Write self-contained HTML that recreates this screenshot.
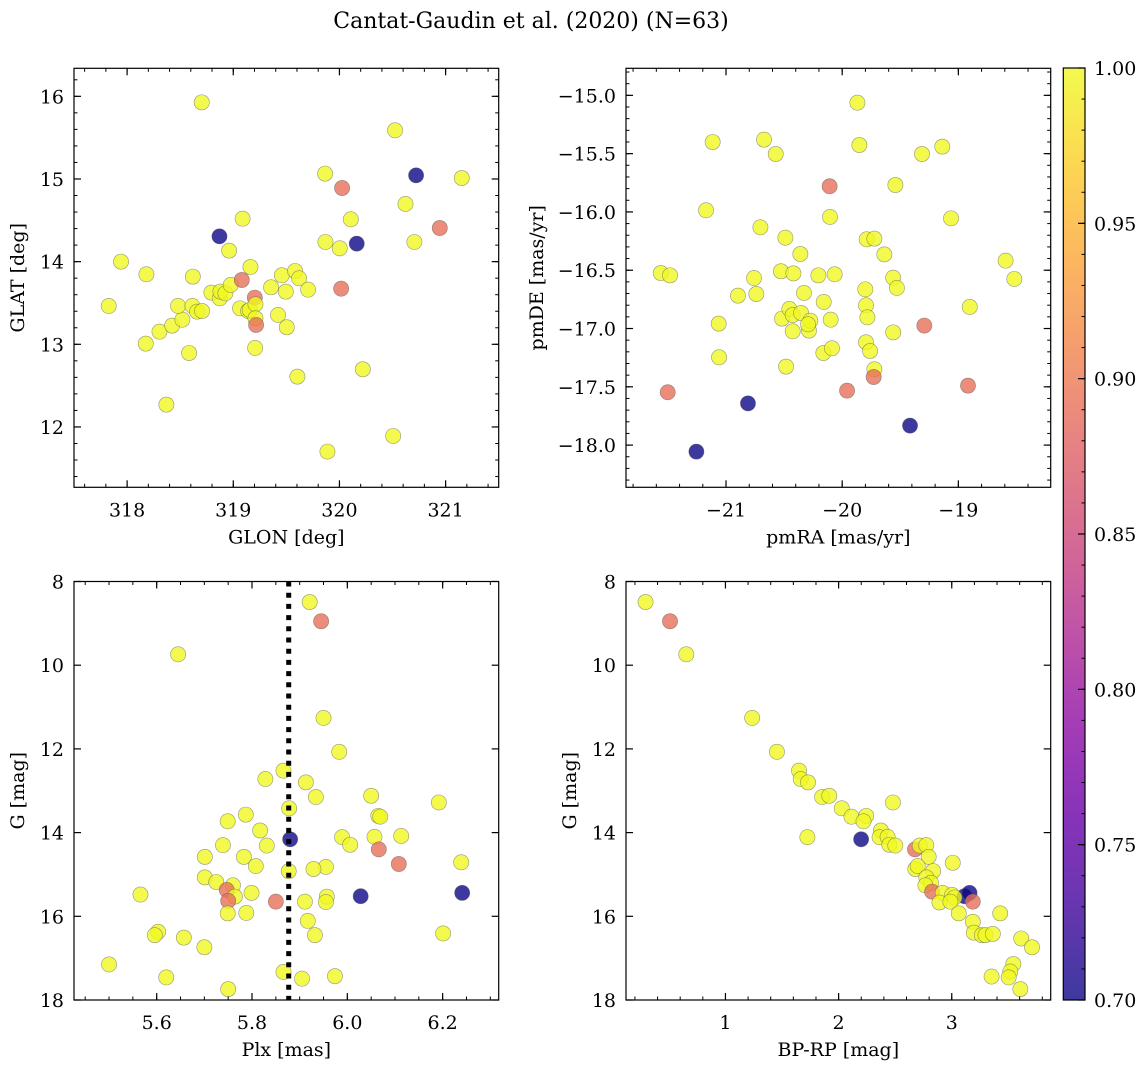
<!DOCTYPE html>
<html><head><meta charset="utf-8">
<style>
html,body{margin:0;padding:0;background:#fff;}
svg{display:block;font-family:"DejaVu Serif","Liberation Serif",serif;}
</style></head>
<body>
<svg id="fig" width="1148" height="1067" viewBox="0 0 1148 1067" xmlns="http://www.w3.org/2000/svg">
<text x="531" y="28" font-size="22" text-anchor="middle">Cantat-Gaudin et al. (2020) (N=63)</text>
</svg>
<script>
// ---- Panel 1: GLON / GLAT ----
const glonVals=[317.827,317.943,318.182,318.176,318.305,318.424,318.521,318.480,318.584,318.619,318.615,318.659,318.706,318.703,318.370,318.794,318.873,318.879,318.926,318.976,318.961,318.870,319.088,319.080,319.162,319.064,319.140,319.155,319.203,319.209,319.209,319.215,319.206,319.356,319.422,319.457,319.495,319.504,319.582,319.620,319.705,319.604,319.865,319.868,319.887,320.003,320.025,320.016,320.107,320.163,320.220,320.506,320.524,320.622,320.706,320.722,320.945,321.152];
const glatVals=[13.464,14.000,13.847,13.008,13.153,13.226,13.298,13.464,12.895,13.819,13.464,13.395,13.403,15.927,12.270,13.625,13.556,13.637,13.617,13.718,14.133,14.306,14.520,13.778,13.935,13.435,13.403,13.415,13.565,13.484,13.315,13.234,12.956,13.690,13.355,13.835,13.637,13.206,13.887,13.798,13.661,12.609,15.065,14.238,11.702,14.161,14.891,13.673,14.512,14.218,12.698,11.891,15.589,14.698,14.238,15.044,14.407,15.012];
const probPos=[1,1,1,1,1,1,1,1,1,1,1,1,1,1,1,1,1,1,1,1,1,0.70,1,0.89,1,1,1,1,0.89,1,1,0.89,1,1,1,1,1,1,1,1,1,1,1,1,1,1,0.89,0.89,1,0.70,1,1,1,1,1,0.70,0.89,1];
// ---- Panel 2: pmRA / pmDE ----
const pmraVals=[-21.562,-21.482,-21.502,-21.255,-21.172,-21.115,-21.063,-21.060,-20.897,-20.811,-20.759,-20.739,-20.704,-20.673,-20.572,-20.527,-20.518,-20.489,-20.483,-20.455,-20.426,-20.426,-20.420,-20.360,-20.354,-20.329,-20.286,-20.274,-20.294,-20.205,-20.159,-20.162,-20.108,-20.105,-20.099,-20.088,-20.065,-19.958,-19.869,-19.852,-19.801,-19.795,-19.783,-19.795,-19.760,-19.789,-19.723,-19.723,-19.729,-19.637,-19.561,-19.529,-19.561,-19.542,-19.416,-19.313,-19.293,-19.138,-19.063,-18.917,-18.902,-18.593,-18.518];
const pmdeVals=[-16.524,-16.544,-17.547,-18.056,-15.986,-15.400,-16.958,-17.247,-16.718,-17.642,-16.567,-16.704,-16.132,-15.380,-15.503,-16.509,-16.915,-16.221,-17.327,-16.832,-16.884,-17.024,-16.527,-16.361,-16.867,-16.695,-17.018,-16.933,-16.964,-16.544,-16.772,-17.210,-15.780,-16.043,-16.924,-17.170,-16.535,-17.533,-15.063,-15.426,-16.664,-16.801,-16.904,-17.118,-17.193,-16.235,-16.229,-17.350,-17.416,-16.364,-16.564,-16.652,-17.033,-15.769,-17.833,-15.503,-16.975,-15.440,-16.055,-17.490,-16.815,-16.418,-16.575];
const probPm=[1,1,0.89,0.70,1,1,1,1,1,0.70,1,1,1,1,1,1,1,1,1,1,1,1,1,1,1,1,1,1,1,1,1,1,0.89,1,1,1,1,0.89,1,1,1,1,1,1,1,1,1,1,0.89,1,1,1,1,1,0.70,1,0.89,1,1,0.89,1,1,1];
// ---- Panel 3: Plx / G ----
const plxVals=[5.921,5.945,5.645,5.950,5.983,5.866,5.828,5.913,5.934,6.050,6.192,5.878,6.065,6.069,5.787,5.749,5.817,5.880,5.989,6.057,6.113,6.006,5.739,5.831,6.066,5.701,5.783,5.808,5.955,5.929,5.877,6.108,6.239,5.701,5.725,5.760,5.747,5.799,5.566,5.764,5.750,5.957,5.955,6.028,6.241,5.850,5.911,5.749,5.788,5.917,5.603,5.596,5.657,5.932,6.201,5.700,5.500,5.620,5.866,5.905,5.974,5.750];
const gPlxVals=[8.49,8.95,9.74,11.26,12.07,12.52,12.72,12.80,13.15,13.12,13.28,13.42,13.60,13.62,13.57,13.73,13.95,14.16,14.11,14.10,14.08,14.29,14.30,14.31,14.40,14.58,14.58,14.80,14.82,14.87,14.92,14.75,14.71,15.07,15.18,15.26,15.37,15.44,15.48,15.53,15.63,15.53,15.66,15.52,15.44,15.65,15.65,15.93,15.92,16.11,16.37,16.45,16.51,16.45,16.41,16.74,17.15,17.46,17.33,17.49,17.43,17.74];
const probPlx=[1,0.89,1,1,1,1,1,1,1,1,1,1,1,1,1,1,1,0.70,1,1,1,1,1,1,0.89,1,1,1,1,1,1,0.89,1,1,1,1,0.89,1,1,1,0.89,1,1,0.70,0.70,0.89,1,1,1,1,1,1,1,1,1,1,1,1,1,1,1,1];
const plxRef=[5.877];
// ---- Panel 4: BP-RP / G ----
const bprpVals=[0.294,0.510,0.654,1.236,1.455,1.650,1.665,1.730,1.854,1.917,2.480,2.028,2.114,2.244,2.220,2.374,1.724,2.199,2.362,2.433,2.448,2.501,2.675,2.717,2.775,2.796,3.009,2.678,2.699,2.835,2.775,2.817,2.767,2.826,2.920,3.003,3.112,3.157,3.024,3.186,2.891,2.988,3.062,3.428,3.186,3.195,3.266,3.298,3.363,3.614,3.709,3.544,3.517,3.503,3.352,3.606];
const gCmdVals=[8.49,8.95,9.74,11.26,12.07,12.52,12.72,12.80,13.15,13.12,13.28,13.42,13.62,13.60,13.73,13.95,14.11,14.16,14.11,14.10,14.29,14.31,14.40,14.31,14.30,14.58,14.72,14.87,14.80,14.92,15.07,15.20,15.26,15.41,15.44,15.49,15.52,15.44,15.55,15.65,15.67,15.65,15.93,15.93,16.13,16.39,16.45,16.45,16.42,16.53,16.74,17.14,17.32,17.46,17.44,17.74];
const probCmd=[1,0.89,1,1,1,1,1,1,1,1,1,1,1,1,1,1,1,0.70,1,1,1,1,0.89,1,1,1,1,1,1,1,1,1,1,0.89,1,1,0.70,0.70,1,0.89,1,1,1,1,1,1,1,1,1,1,1,1,1,1,1,1];
// ---- Colorbar ----
const cbTicks=[0.70,0.75,0.80,0.85,0.90,0.95,1.00];
const cbTickLabels=["0.70","0.75","0.80","0.85","0.90","0.95","1.00"];

const NS="http://www.w3.org/2000/svg";
const svg=document.getElementById('fig');
const FS=19;
function mk(tag,attrs,parent){const e=document.createElementNS(NS,tag);for(const k in attrs)e.setAttribute(k,attrs[k]);(parent||svg).appendChild(e);return e;}
const plasma=[[13,8,135],[65,4,157],[106,0,168],[143,13,164],[177,42,144],[204,71,120],[225,100,98],[242,132,75],[252,166,54],[252,206,37],[240,249,33]];
function cmap(p){let t=(p-0.7)/0.3;t=Math.max(0,Math.min(1,t));const f=t*10,i=Math.min(9,Math.floor(f)),r=f-i;const a=plasma[i],b=plasma[i+1];return 'rgb('+[0,1,2].map(k=>Math.round(a[k]+(b[k]-a[k])*r)).join(',')+')';}
function fmt(v,d){const s=Math.abs(v).toFixed(d);return v<0?'\u2212'+s:s;}

function panel(o){
  const g=mk('g',{});
  
  
  const X=v=>o.x0+(v-o.xmin)/(o.xmax-o.xmin)*(o.x1-o.x0);
  const Y=v=>o.y1-(v-o.ymin)/(o.ymax-o.ymin)*(o.y1-o.y0);
  const cp=mk('clipPath',{id:'clip-'+o.name},g);
  mk('rect',{x:o.x0,y:o.y0,width:o.x1-o.x0,height:o.y1-o.y0},cp);
  const pts=mk('g',{'clip-path':'url(#clip-'+o.name+')'},g);
  
  
  for(let i=0;i<o.xs.length;i++){
    const c=mk('circle',{cx:X(o.xs[i]),cy:Y(o.ys[i]),r:7.6,fill:cmap(o.ps[i]),'fill-opacity':0.8,stroke:'#555','stroke-opacity':0.6,'stroke-width':0.6},pts);
    
    
  }
  if(o.vline){const l=mk('line',{x1:X(o.vline),x2:X(o.vline),y1:o.y0,y2:o.y1,stroke:'#000','stroke-width':5,'stroke-dasharray':'5 6.2'},g);
    
    }
  const fr=mk('rect',{x:o.x0,y:o.y0,width:o.x1-o.x0,height:o.y1-o.y0,fill:'none',stroke:'#000','stroke-width':1.2},g);
  
  
  const eps=1e-9;
  let start=Math.ceil((o.xmin-eps)/o.xminor)*o.xminor;
  for(let v=start;v<=o.xmax+eps;v+=o.xminor){const x=X(v);mk('line',{x1:x,x2:x,y1:o.y1,y2:o.y1-3.5,stroke:'#000','stroke-width':1},g);mk('line',{x1:x,x2:x,y1:o.y0,y2:o.y0+3.5,stroke:'#000','stroke-width':1},g);}
  start=Math.ceil((o.ymin-eps)/o.yminor)*o.yminor;
  for(let v=start;v<=o.ymax+eps;v+=o.yminor){const y=Y(v);mk('line',{x1:o.x0,x2:o.x0+3.5,y1:y,y2:y,stroke:'#000','stroke-width':1},g);mk('line',{x1:o.x1,x2:o.x1-3.5,y1:y,y2:y,stroke:'#000','stroke-width':1},g);}
  o.xt.forEach(v=>{const x=X(v);mk('line',{x1:x,x2:x,y1:o.y1,y2:o.y1-7,stroke:'#000','stroke-width':1.2},g);mk('line',{x1:x,x2:x,y1:o.y0,y2:o.y0+7,stroke:'#000','stroke-width':1.2},g);
    const t=mk('text',{x:x,y:o.y1+29,'font-size':FS,'text-anchor':'middle'},g);t.textContent=fmt(v,o.xd);
    });
  o.yt.forEach(v=>{const y=Y(v);mk('line',{x1:o.x0,x2:o.x0+7,y1:y,y2:y,stroke:'#000','stroke-width':1.2},g);mk('line',{x1:o.x1,x2:o.x1-7,y1:y,y2:y,stroke:'#000','stroke-width':1.2},g);
    const t=mk('text',{x:o.x0-10,y:y+7,'font-size':FS,'text-anchor':'end'},g);t.textContent=fmt(v,o.yd);
    });
  const xl=mk('text',{x:(o.x0+o.x1)/2,y:o.y1+56,'font-size':FS,'text-anchor':'middle'},g);xl.textContent=o.xlabel;
  
  const yx=o.ylx,yy=(o.y0+o.y1)/2;
  const yl=mk('text',{x:yx,y:yy,'font-size':FS,'text-anchor':'middle',transform:'rotate(-90 '+yx+' '+yy+')'},g);yl.textContent=o.ylabel;
  
}

panel({name:'position-panel',x0:74,x1:498.7,y0:68.3,y1:487.3,xmin:317.5,xmax:321.5,ymin:11.27,ymax:16.339,xs:glonVals,ys:glatVals,ps:probPos,xt:[318,319,320,321],yt:[12,13,14,15,16],xminor:0.2,yminor:0.2,xd:0,yd:0,xlabel:'GLON [deg]',ylabel:'GLAT [deg]',ylx:24});
panel({name:'proper-motion-panel',x0:626,x1:1050.7,y0:68.3,y1:487.3,xmin:-21.861,xmax:-18.205,ymin:-18.362,ymax:-14.768,xs:pmraVals,ys:pmdeVals,ps:probPm,xt:[-21,-20,-19],yt:[-18,-17.5,-17,-16.5,-16,-15.5,-15],xminor:0.2,yminor:0.1,xd:0,yd:1,xlabel:'pmRA [mas/yr]',ylabel:'pmDE [mas/yr]',ylx:543});
panel({name:'parallax-panel',x0:74,x1:498.7,y0:581.5,y1:1000,xmin:5.4265,xmax:6.3176,ymin:18,ymax:8,xs:plxVals,ys:gPlxVals,ps:probPlx,xt:[5.6,5.8,6.0,6.2],yt:[8,10,12,14,16,18],xminor:0.05,yminor:0.5,xd:1,yd:0,xlabel:'Plx [mas]',ylabel:'G [mag]',ylx:24,vline:plxRef[0]});
panel({name:'cmd-panel',x0:626,x1:1050.7,y0:581.5,y1:1000,xmin:0.1211,xmax:3.8744,ymin:18,ymax:8,xs:bprpVals,ys:gCmdVals,ps:probCmd,xt:[1,2,3],yt:[8,10,12,14,16,18],xminor:0.2,yminor:0.5,xd:0,yd:0,xlabel:'BP-RP [mag]',ylabel:'G [mag]',ylx:576});

(function(){
  const cx0=1063.3,cx1=1085,cy0=68,cy1=1000;
  const g=mk('g',{});
  
  
  const defs=mk('defs',{},g);
  const lg=mk('linearGradient',{id:'cbgrad',x1:0,y1:1,x2:0,y2:0},defs);
  plasma.forEach((c,i)=>mk('stop',{offset:(i/10),'stop-color':'rgb('+c.join(',')+')','stop-opacity':0.8},lg));
  mk('rect',{x:cx0,y:cy0,width:cx1-cx0,height:cy1-cy0,fill:'url(#cbgrad)',stroke:'#000','stroke-width':1.2},g);
  const Y=v=>cy1-(v-0.7)/0.3*(cy1-cy0);
  for(let v=0.70;v<=1.0001;v+=0.01){const y=Y(v);mk('line',{x1:cx1,x2:cx1-3.5,y1:y,y2:y,stroke:'#000','stroke-width':1},g);}
  cbTicks.forEach((v,i)=>{const y=Y(v);mk('line',{x1:cx1,x2:cx1-7,y1:y,y2:y,stroke:'#000','stroke-width':1.2},g);
    const t=mk('text',{x:cx1+9,y:y+7,'font-size':FS},g);t.textContent=cbTickLabels[i];
    });
})();
</script>
</body></html>
